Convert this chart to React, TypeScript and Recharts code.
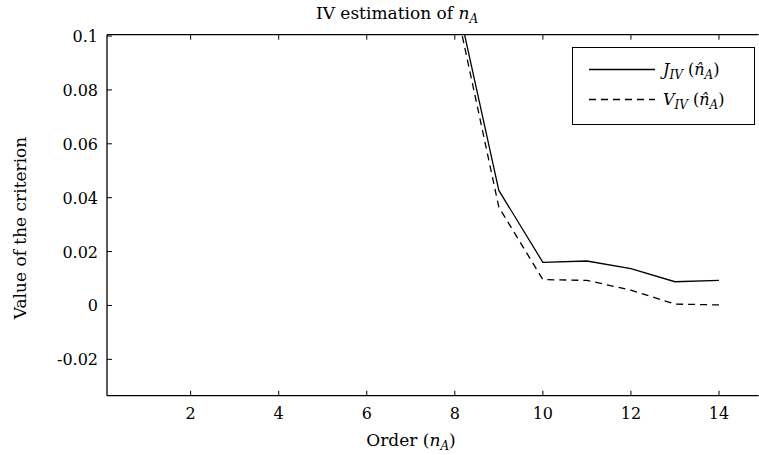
import React from 'react';
import { LineChart, Line, XAxis, YAxis } from 'recharts';

// Model orders shown (lower orders are far above the visible range)
const orders = [8, 9, 10, 11, 12, 13, 14];
const jIV = [0.117, 0.0427, 0.016, 0.0165, 0.0137, 0.0088, 0.0093];
const vIV = [0.113, 0.0365, 0.0096, 0.0093, 0.0057, 0.0005, 0.0002];

const xTicks = [2, 4, 6, 8, 10, 12, 14];
const yTicks = [-0.02, 0, 0.02, 0.04, 0.06, 0.08, 0.1];

const FONT = '"DejaVu Serif", "Liberation Serif", serif';

const data = orders.map((n, i) => ({ n, j: jIV[i], v: vIV[i] }));

// ticks point inwards, like MATLAB
const BottomTick = (props: any) => {
  const { x, y, payload } = props;
  return (
    <g>
      <line x1={x} x2={x} y1={y - 12} y2={y - 17} stroke="#000" strokeWidth={1} />
      <text x={x} y={y + 11.5} textAnchor="middle" fontFamily={FONT} fontSize={16} fill="#000">
        {payload.value}
      </text>
    </g>
  );
};

const TopTick = (props: any) => {
  const { x, y } = props;
  return <line x1={x} x2={x} y1={y} y2={y + 5} stroke="#000" strokeWidth={1} />;
};

const LeftTick = (props: any) => {
  const { x, y, payload } = props;
  const label = String(Math.round(payload.value * 100) / 100);
  return (
    <g>
      <line x1={x + 9} x2={x + 14} y1={y} y2={y} stroke="#000" strokeWidth={1} />
      <text x={x} y={y + 6} textAnchor="end" fontFamily={FONT} fontSize={16} fill="#000">
        {label}
      </text>
    </g>
  );
};

const Sub = ({ children }: { children: React.ReactNode }) => (
  <tspan fontStyle="italic" fontSize={12} dy={4}>{children}</tspan>
);

const LegendBox = () => (
  <svg
    width={183}
    height={78}
    style={{ position: 'absolute', left: 572, top: 47, pointerEvents: 'none' }}
  >
    <rect x={0.5} y={0.5} width={182} height={77} fill="#fff" stroke="#000" strokeWidth={1} />
    <line x1={17} x2={83} y1={22.5} y2={22.5} stroke="#000" strokeWidth={1.3} />
    <line x1={17} x2={83} y1={52.5} y2={52.5} stroke="#000" strokeWidth={1.3} strokeDasharray="7 5" />
    <text x={91} y={28} fontFamily={FONT} fontSize={16}>
      <tspan fontStyle="italic">J</tspan>
      <Sub>IV</Sub>
      <tspan dy={-4}>{' ('}</tspan>
      <tspan fontStyle="italic">{'n\u0302'}</tspan>
      <Sub>A</Sub>
      <tspan dy={-4}>)</tspan>
    </text>
    <text x={91} y={58} fontFamily={FONT} fontSize={16}>
      <tspan fontStyle="italic">V</tspan>
      <Sub>IV</Sub>
      <tspan dy={-4}>{' ('}</tspan>
      <tspan fontStyle="italic">{'n\u0302'}</tspan>
      <Sub>A</Sub>
      <tspan dy={-4}>)</tspan>
    </text>
  </svg>
);

const App: React.FC = () => {
  return (
    <div style={{ position: 'fixed', left: 0, top: 0, width: 759, height: 455, background: '#fff' }}>
      <LineChart
        width={759}
        height={455}
        data={data}
        margin={{ top: 33.7, right: 0.4, left: 47, bottom: 29.3 }}
      >
        <XAxis
          xAxisId="top"
          orientation="top"
          dataKey="n"
          type="number"
          domain={[0.1, 14.9]}
          ticks={xTicks}
          interval={0}
          height={1}
          tickSize={0}
          tickMargin={0}
          tickLine={false}
          tick={TopTick}
          axisLine={{ stroke: '#000', strokeWidth: 1.3 }}
          allowDataOverflow
        />
        <XAxis
          dataKey="n"
          type="number"
          domain={[0.1, 14.9]}
          ticks={xTicks}
          interval={0}
          height={30}
          tickSize={0}
          tickMargin={12}
          tickLine={false}
          tick={BottomTick}
          axisLine={{ stroke: '#000', strokeWidth: 1.3 }}
          allowDataOverflow
        />
        <YAxis
          type="number"
          domain={[-0.0335, 0.1005]}
          ticks={yTicks}
          interval={0}
          width={60}
          tickSize={0}
          tickMargin={9}
          tickLine={false}
          tick={LeftTick}
          axisLine={{ stroke: '#000', strokeWidth: 1.3 }}
          allowDataOverflow
        />
        <Line
          dataKey="j"
          stroke="#000"
          strokeWidth={1.3}
          dot={false}
          isAnimationActive={false}
        />
        <Line
          dataKey="v"
          stroke="#000"
          strokeWidth={1.3}
          strokeDasharray="7 5"
          dot={false}
          isAnimationActive={false}
        />
      </LineChart>
      <LegendBox />
      <svg
        width={759}
        height={455}
        style={{ position: 'absolute', left: 0, top: 0, pointerEvents: 'none' }}
      >
        <text x={397} y={19} textAnchor="middle" fontFamily={FONT} fontSize={17}>
          IV estimation of <tspan fontStyle="italic">n</tspan>
          <Sub>A</Sub>
        </text>
        <text x={411} y={446} textAnchor="middle" fontFamily={FONT} fontSize={17}>
          Order (<tspan fontStyle="italic">n</tspan>
          <Sub>A</Sub>
          <tspan dy={-4}>)</tspan>
        </text>
        <text
          x={26}
          y={228}
          textAnchor="middle"
          fontFamily={FONT}
          fontSize={17}
          transform="rotate(-90 26 228)"
        >
          Value of the criterion
        </text>
      </svg>
    </div>
  );
};

export default App;
